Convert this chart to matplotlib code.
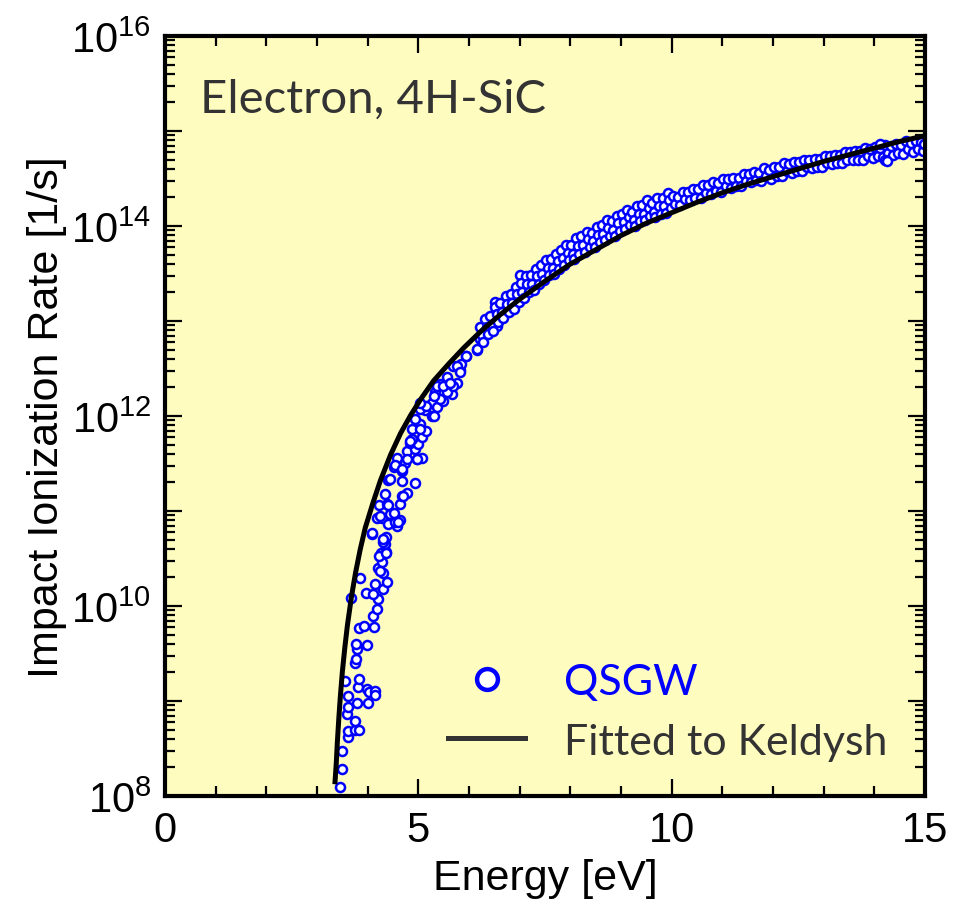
import numpy as np
import matplotlib
matplotlib.use('Agg')
import matplotlib.pyplot as plt
from matplotlib.lines import Line2D
from matplotlib.ticker import LogLocator, MultipleLocator, FuncFormatter, NullFormatter

# Fonte tipo Arial para os eixos, e mathtext com a mesma fonte
plt.rcParams['font.family'] = ['Liberation Sans', 'DejaVu Sans']
plt.rcParams['mathtext.fontset'] = 'custom'
plt.rcParams['mathtext.rm'] = 'Liberation Sans'
plt.rcParams['mathtext.it'] = 'Liberation Sans:italic'

# Pontos QSGW perto do limiar (energia em eV, expoente log10 da taxa em 1/s)
qsgw_low_energy = [
    3.45, 3.49, 3.50, 3.62, 3.62, 3.75, 3.82, 3.75, 3.59, 3.62, 3.78, 4.01, 3.62,
    3.55, 3.80, 3.83, 3.98, 4.03, 4.14, 4.14, 3.75, 3.76, 3.78, 3.77, 3.99, 3.83,
    3.93, 4.13, 4.10, 4.19, 4.21, 3.68, 3.96, 4.11, 4.31, 4.14, 4.38, 3.85, 4.21,
    4.31, 4.28, 4.27, 4.37, 4.22, 4.34, 4.31, 4.36, 4.08, 4.19, 4.28, 4.41, 4.57,
    4.54, 4.64, 4.44, 4.51, 4.22, 4.39, 4.64, 4.67, 4.77, 4.34, 4.41, 4.67, 4.93,
    4.67, 4.51, 4.74, 4.57, 4.97, 5.07, 4.77, 4.93, 4.84, 5.00, 5.07, 4.87, 4.87,
    5.16, 5.03, 4.93, 5.26, 5.13, 5.03, 5.26, 5.36, 5.49, 5.33, 5.43, 5.66, 5.76,
    5.56, 5.82, 5.69, 5.85, 5.95, 6.15,
    4.44, 4.70, 4.60, 4.40, 4.24, 4.08, 4.31, 4.37, 4.24, 5.03, 4.84, 4.97, 4.54,
    4.67, 4.77, 5.30, 5.03, 5.16, 5.43, 5.56, 5.69, 5.36,
    5.03, 5.30, 5.49, 5.62, 5.76, 5.82, 5.95, 6.15, 6.22, 6.35, 6.55, 6.51, 6.68,
    6.81, 6.94, 7.01, 7.20, 7.40, 7.53, 7.66,
]
qsgw_low_exp = [
    8.09, 8.28, 8.47, 8.62, 8.68, 8.69, 8.69, 8.79, 8.86, 8.94, 8.98, 8.98, 9.05,
    9.21, 9.15, 9.23, 9.13, 9.09, 9.11, 9.06, 9.40, 9.44, 9.55, 9.60, 9.59, 9.77,
    9.79, 9.78, 9.89, 9.97, 10.07, 10.08, 10.14, 10.13, 10.18, 10.23, 10.25, 10.30, 10.40,
    10.35, 10.46, 10.56, 10.57, 10.53, 10.65, 10.67, 10.73, 10.76, 10.93, 10.93, 10.86, 10.84,
    10.88, 10.91, 10.97, 10.98, 11.06, 11.07, 11.07, 11.16, 11.19, 11.18, 11.33, 11.32, 11.30,
    11.42, 11.46, 11.51, 11.56, 11.55, 11.56, 11.63, 11.65, 11.72, 11.71, 11.78, 11.76, 11.86,
    11.84, 11.92, 11.97, 12.00, 12.06, 12.09, 12.14, 12.09, 12.16, 12.25, 12.34, 12.23, 12.35,
    12.41, 12.48, 12.53, 12.55, 12.63, 12.69,
    11.34, 11.16, 10.88, 11.06, 10.95, 10.77, 10.71, 10.56, 10.37, 11.86, 11.74, 11.55, 11.48,
    11.44, 11.55, 12.00, 12.07, 12.11, 12.18, 12.25, 12.32, 12.32,
    12.14, 12.21, 12.32, 12.35, 12.53, 12.46, 12.63, 12.71, 12.81, 12.88, 12.95, 13.20, 13.09,
    13.23, 13.30, 13.48, 13.44, 13.51, 13.62, 13.58,
]

# Faixa densa de 6.2 a 10 eV (tres pontos por passo de 0.1 eV)
qsgw_mid_energy = [
    6.22, 6.25, 6.28, 6.32, 6.35, 6.38, 6.42, 6.45, 6.48, 6.52, 6.55, 6.58,
    6.62, 6.65, 6.68, 6.72, 6.75, 6.78, 6.82, 6.85, 6.88, 6.92, 6.95, 6.98,
    7.02, 7.05, 7.08, 7.12, 7.15, 7.18, 7.22, 7.25, 7.28, 7.32, 7.35, 7.38,
    7.42, 7.45, 7.48, 7.52, 7.55, 7.58, 7.62, 7.65, 7.68, 7.72, 7.75, 7.78,
    7.82, 7.85, 7.88, 7.92, 7.95, 7.98, 8.02, 8.05, 8.08, 8.12, 8.15, 8.18,
    8.22, 8.25, 8.28, 8.32, 8.35, 8.38, 8.42, 8.45, 8.48, 8.52, 8.55, 8.58,
    8.62, 8.65, 8.68, 8.72, 8.75, 8.78, 8.82, 8.85, 8.88, 8.92, 8.95, 8.98,
    9.02, 9.05, 9.08, 9.12, 9.15, 9.18, 9.22, 9.25, 9.28, 9.32, 9.35, 9.38,
    9.42, 9.45, 9.48, 9.52, 9.55, 9.58, 9.62, 9.65, 9.68, 9.72, 9.75, 9.78,
    9.82, 9.85, 9.88, 9.92, 9.95, 9.98,
]
qsgw_mid_exp = [
    12.94, 12.85, 12.78, 13.02, 12.94, 12.86, 13.05, 12.96, 12.90, 13.15, 13.07, 12.99,
    13.19, 13.10, 13.03, 13.26, 13.18, 13.10, 13.28, 13.19, 13.13, 13.36, 13.28, 13.20,
    13.40, 13.31, 13.24, 13.47, 13.39, 13.31, 13.48, 13.39, 13.33, 13.55, 13.47, 13.39,
    13.59, 13.50, 13.43, 13.64, 13.56, 13.48, 13.65, 13.56, 13.50, 13.71, 13.63, 13.55,
    13.75, 13.66, 13.59, 13.80, 13.72, 13.64, 13.80, 13.71, 13.65, 13.87, 13.79, 13.71,
    13.89, 13.80, 13.73, 13.94, 13.86, 13.78, 13.93, 13.84, 13.78, 13.99, 13.91, 13.83,
    14.01, 13.92, 13.85, 14.06, 13.98, 13.90, 14.05, 13.96, 13.90, 14.11, 14.03, 13.95,
    14.13, 14.04, 13.97, 14.17, 14.09, 14.01, 14.15, 14.06, 14.00, 14.21, 14.13, 14.05,
    14.22, 14.13, 14.06, 14.27, 14.19, 14.11, 14.24, 14.15, 14.09, 14.29, 14.21, 14.13,
    14.30, 14.21, 14.14, 14.35, 14.27, 14.19,
]

# Faixa de 10 a 15 eV (dois pontos por passo de 0.1 eV, mais alguns isolados)
qsgw_high_energy = [
    10.02, 10.07, 10.12, 10.17, 10.22, 10.27, 10.32, 10.37, 10.42, 10.47,
    10.52, 10.57, 10.62, 10.67, 10.72, 10.77, 10.82, 10.87, 10.92, 10.97,
    11.02, 11.07, 11.12, 11.17, 11.22, 11.27, 11.32, 11.37, 11.42, 11.47,
    11.52, 11.57, 11.62, 11.67, 11.72, 11.77, 11.82, 11.87, 11.92, 11.97,
    12.02, 12.07, 12.12, 12.17, 12.22, 12.27, 12.32, 12.37, 12.42, 12.47,
    12.52, 12.57, 12.62, 12.67, 12.72, 12.77, 12.82, 12.87, 12.92, 12.97,
    13.02, 13.07, 13.12, 13.17, 13.22, 13.27, 13.32, 13.37, 13.42, 13.47,
    13.52, 13.57, 13.62, 13.67, 13.72, 13.77, 13.82, 13.87, 13.92, 13.97,
    14.02, 14.07, 14.12, 14.17, 14.22, 14.27, 14.32, 14.37, 14.42, 14.47,
    14.52, 14.57, 14.62, 14.67, 14.72, 14.77, 14.82, 14.87, 14.92, 14.97,
    14.11, 14.22, 14.26, 14.98,
]
qsgw_high_exp = [
    14.32, 14.23, 14.31, 14.22, 14.36, 14.28, 14.36, 14.27, 14.39, 14.30,
    14.39, 14.30, 14.43, 14.35, 14.43, 14.34, 14.46, 14.37, 14.45, 14.36,
    14.50, 14.42, 14.49, 14.40, 14.51, 14.42, 14.51, 14.42, 14.55, 14.47,
    14.55, 14.46, 14.57, 14.48, 14.56, 14.47, 14.61, 14.53, 14.59, 14.50,
    14.62, 14.53, 14.62, 14.53, 14.66, 14.58, 14.65, 14.56, 14.67, 14.58,
    14.67, 14.58, 14.70, 14.62, 14.70, 14.61, 14.71, 14.62, 14.71, 14.62,
    14.74, 14.66, 14.74, 14.65, 14.75, 14.66, 14.75, 14.66, 14.78, 14.70,
    14.78, 14.69, 14.79, 14.70, 14.79, 14.70, 14.82, 14.74, 14.81, 14.72,
    14.83, 14.74, 14.82, 14.73, 14.85, 14.77, 14.84, 14.75, 14.86, 14.77,
    14.85, 14.76, 14.89, 14.81, 14.87, 14.78, 14.90, 14.81, 14.88, 14.79,
    14.86, 14.70, 14.68, 14.86,
]

# Curva ajustada (Keldysh): energia e expoente log10 da taxa
fit_energy = [
    3.355, 3.38, 3.40, 3.43, 3.46, 3.50, 3.55, 3.60, 3.68, 3.76, 3.85, 3.95,
    4.10, 4.25, 4.45, 4.65, 4.85, 5.05, 5.30, 5.60, 5.90, 6.25, 6.60, 7.00,
    7.50, 8.00, 8.50, 9.00, 9.50, 10.00, 10.50, 11.00, 11.50, 12.00, 12.50,
    13.00, 13.50, 14.00, 14.50, 15.00,
]
fit_exp = [
    8.15, 8.35, 8.56, 8.82, 9.05, 9.31, 9.57, 9.80, 10.10, 10.35, 10.59, 10.82,
    11.08, 11.32, 11.59, 11.82, 12.01, 12.18, 12.37, 12.55, 12.72, 12.90, 13.06, 13.23,
    13.42, 13.60, 13.75, 13.90, 14.03, 14.14, 14.25, 14.35, 14.44, 14.52, 14.60,
    14.68, 14.75, 14.82, 14.89, 14.95,
]

qsgw_energy = np.array(qsgw_low_energy + qsgw_mid_energy + qsgw_high_energy)
qsgw_rate = 10.0 ** np.array(qsgw_low_exp + qsgw_mid_exp + qsgw_high_exp)
fit_rate = 10.0 ** np.array(fit_exp)

fig = plt.figure(figsize=(9.71, 9.12), dpi=100)
ax = fig.add_axes([0.170, 0.1261, 0.7826, 0.8333])
ax.set_facecolor('#FFFCBF')

ax.plot(qsgw_energy, qsgw_rate, linestyle='none', marker='o', markersize=6.5,
        markerfacecolor='white', markeredgecolor='#0000FF', markeredgewidth=1.8, zorder=2)
ax.plot(fit_energy, fit_rate, color='black', linewidth=3.6, zorder=3)

ax.set_yscale('log')
ax.set_xlim(0, 15)
ax.set_ylim(1e8, 1e16)

# Ticks para dentro nos quatro lados, rotulos so nas decadas pares
ax.xaxis.set_major_locator(MultipleLocator(5))
ax.xaxis.set_minor_locator(MultipleLocator(1))
ax.yaxis.set_major_locator(LogLocator(base=10, numticks=20))
ax.yaxis.set_minor_locator(LogLocator(base=10, subs=np.arange(2, 10), numticks=20))
ax.yaxis.set_minor_formatter(NullFormatter())
ax.yaxis.set_major_formatter(FuncFormatter(
    lambda v, pos: r'$10^{%d}$' % round(np.log10(v)) if round(np.log10(v)) % 2 == 0 else ''))

ax.tick_params(which='both', direction='in', top=True, right=True, color='black')
ax.tick_params(which='major', length=12, width=1.6, labelsize=30, pad=10)
ax.tick_params(which='minor', length=7, width=1.6)
for s in ax.spines.values():
    s.set_linewidth(3.0)
    s.set_color('black')

ax.set_xlabel('Energy [eV]', fontsize=31, labelpad=6)
ax.set_ylabel('Impact Ionization Rate [1/s]', fontsize=31, labelpad=3)

ax.text(0.046, 0.917, 'Electron, 4H-SiC', transform=ax.transAxes, fontsize=34,
        family=['Lato', 'DejaVu Sans'], color='#333333', va='center', ha='left')

handles = [
    Line2D([], [], linestyle='none', marker='o', markersize=15, markerfacecolor='white',
           markeredgecolor='#0000FF', markeredgewidth=3.2),
    Line2D([], [], color='#333333', linewidth=3.6),
]
leg = ax.legend(handles, ['QSGW', 'Fitted to Keldysh'], loc='upper left',
                bbox_to_anchor=(0.372, 0.175), frameon=False, borderpad=0, borderaxespad=0,
                handlelength=1.8, handletextpad=0.9, labelspacing=0.5,
                prop={'family': ['Lato', 'DejaVu Sans'], 'size': 31})
leg.get_texts()[0].set_color('#0000FF')
leg.get_texts()[1].set_color('#333333')

fig.savefig('out.png', dpi=100)
